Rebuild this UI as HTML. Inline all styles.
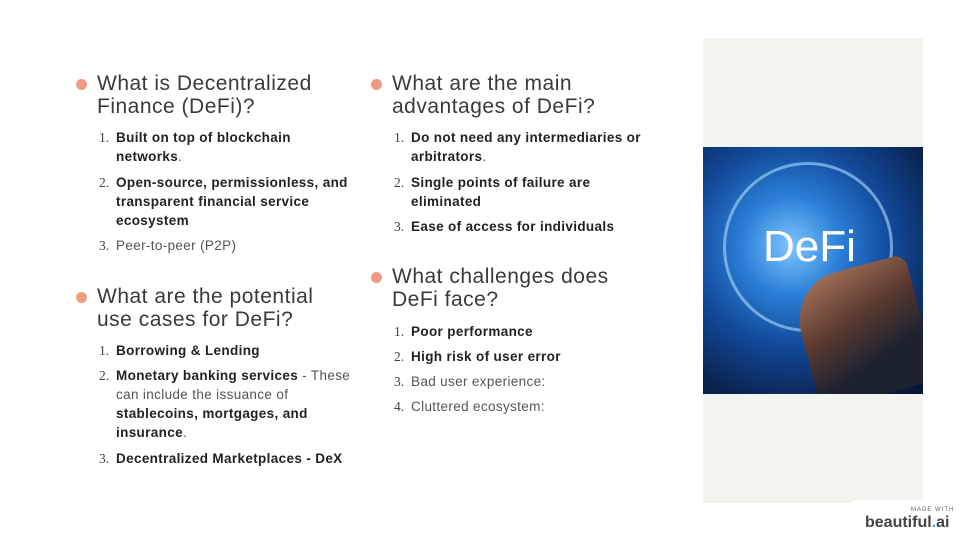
<!DOCTYPE html>
<html><head><meta charset="utf-8"><style>
*{margin:0;padding:0;box-sizing:border-box}
body{width:960px;height:540px;background:#fff;position:relative;overflow:hidden;font-family:"Liberation Sans",sans-serif;color:#222}
.l{position:absolute;white-space:nowrap}
.h{font-size:21px;line-height:24px;color:#3a3a3a;letter-spacing:0.5px;top:0}
.i{font-size:13.5px;line-height:20px;color:#555;letter-spacing:0.35px}
.i b{color:#222}
.n{font-family:"Liberation Serif",serif;font-size:13.5px;color:#444;letter-spacing:0}
.dot{position:absolute;width:11px;height:11px;border-radius:50%;background:#ef9b84}
</style></head><body>
<div style="position:absolute;left:703px;top:38px;width:220px;height:465px;background:#f2f4ef"></div>
<div style="position:absolute;left:703px;top:147px;width:220px;height:247px;overflow:hidden;background:radial-gradient(circle at 40% 40%,#7fc6ff 0%,#2a7fd6 25%,#124a9a 50%,#0a2350 80%,#061530 100%)">
<div style="position:absolute;left:20px;top:15px;width:170px;height:170px;border-radius:50%;border:3px solid rgba(170,220,255,.6)"></div>
<div style="position:absolute;left:100px;top:120px;width:120px;height:130px;background:linear-gradient(160deg,#b07a60 0%,#5a3a30 40%,#1c2230 70%);border-radius:40% 10% 0 0;transform:rotate(-15deg)"></div>
<div class="l" style="left:60px;top:75px;font-size:44px;color:#fff;line-height:50px">DeFi</div>
</div>
<div style="position:absolute;left:853px;top:500px;width:107px;height:40px;background:#fff"></div>
<div class="l" style="left:911px;top:507px;font-size:6px;color:#666;letter-spacing:1px">MADE WITH</div>
<div class="l" style="left:865px;top:514px;font-size:16px;font-weight:bold;color:#444">beautiful<span style="color:#3fa9f5">.</span>ai</div>

<div class="dot" style="left:76px;top:79px"></div>
<div class="l h" style="left:97px;top:72px">What is Decentralized</div>
<div class="l h" style="left:97px;top:95px">Finance (DeFi)?</div>
<div class="l i n" style="left:99px;top:128px">1.</div><div class="l i" style="left:116px;top:128px"><b>Built on top of blockchain</b></div>
<div class="l i" style="left:116px;top:147px"><b>networks</b>.</div>
<div class="l i n" style="left:99px;top:173px">2.</div><div class="l i" style="left:116px;top:173px"><b>Open-source, permissionless, and</b></div>
<div class="l i" style="left:116px;top:192px"><b>transparent financial service</b></div>
<div class="l i" style="left:116px;top:211px"><b>ecosystem</b></div>
<div class="l i n" style="left:99px;top:236px">3.</div><div class="l i" style="left:116px;top:236px">Peer-to-peer (P2P)</div>

<div class="dot" style="left:76px;top:292px"></div>
<div class="l h" style="left:97px;top:285px">What are the potential</div>
<div class="l h" style="left:97px;top:308px">use cases for DeFi?</div>
<div class="l i n" style="left:99px;top:341px">1.</div><div class="l i" style="left:116px;top:341px"><b>Borrowing &amp; Lending</b></div>
<div class="l i n" style="left:99px;top:366px">2.</div><div class="l i" style="left:116px;top:366px"><b>Monetary banking services</b> - These</div>
<div class="l i" style="left:116px;top:385px">can include the issuance of</div>
<div class="l i" style="left:116px;top:404px"><b>stablecoins, mortgages, and</b></div>
<div class="l i" style="left:116px;top:423px"><b>insurance</b>.</div>
<div class="l i n" style="left:99px;top:449px">3.</div><div class="l i" style="left:116px;top:449px"><b>Decentralized Marketplaces - DeX</b></div>

<div class="dot" style="left:371px;top:79px"></div>
<div class="l h" style="left:392px;top:72px">What are the main</div>
<div class="l h" style="left:392px;top:95px">advantages of DeFi?</div>
<div class="l i n" style="left:394px;top:128px">1.</div><div class="l i" style="left:411px;top:128px"><b>Do not need any intermediaries or</b></div>
<div class="l i" style="left:411px;top:147px"><b>arbitrators</b>.</div>
<div class="l i n" style="left:394px;top:173px">2.</div><div class="l i" style="left:411px;top:173px"><b>Single points of failure are</b></div>
<div class="l i" style="left:411px;top:192px"><b>eliminated</b></div>
<div class="l i n" style="left:394px;top:217px">3.</div><div class="l i" style="left:411px;top:217px"><b>Ease of access for individuals</b></div>

<div class="dot" style="left:371px;top:272px"></div>
<div class="l h" style="left:392px;top:265px">What challenges does</div>
<div class="l h" style="left:392px;top:288px">DeFi face?</div>
<div class="l i n" style="left:394px;top:322px">1.</div><div class="l i" style="left:411px;top:322px"><b>Poor performance</b></div>
<div class="l i n" style="left:394px;top:347px">2.</div><div class="l i" style="left:411px;top:347px"><b>High risk of user error</b></div>
<div class="l i n" style="left:394px;top:372px">3.</div><div class="l i" style="left:411px;top:372px">Bad user experience:</div>
<div class="l i n" style="left:394px;top:397px">4.</div><div class="l i" style="left:411px;top:397px">Cluttered ecosystem:</div>
</body></html>
